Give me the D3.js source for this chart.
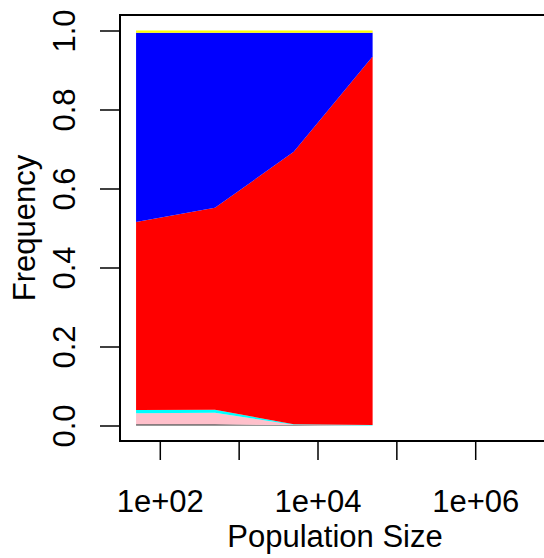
<!DOCTYPE html>
<html>
<head>
<meta charset="utf-8">
<script src="https://cdn.jsdelivr.net/npm/d3@7"></script>
<style>
  html, body { margin: 0; padding: 0; background: #fff; }
  svg { display: block; }
  text { font-family: "Liberation Sans", Arial, Helvetica, sans-serif; fill: #000; }
</style>
</head>
<body>
<svg id="chart" width="544" height="558"></svg>
<script>
// Population sizes (log scale)
const popSizes = [50, 500, 5000, 50000];

// Frequency of each type at every population size (stacked bottom to top)
const seriesNames  = ["dark", "pink", "cyan", "red", "blue", "yellow"];
const seriesColors = ["#333333", "pink", "cyan", "red", "blue", "yellow"];
const darkFreq   = [0.003, 0.003, 0.001, 0.000];
const pinkFreq   = [0.028, 0.029, 0.001, 0.000];
const cyanFreq   = [0.008, 0.008, 0.001, 0.001];
const redFreq    = [0.476, 0.511, 0.690, 0.933];
const blueFreq   = [0.479, 0.443, 0.301, 0.060];
const yellowFreq = [0.006, 0.006, 0.006, 0.006];

const xTickValues = [1e2, 1e3, 1e4, 1e5, 1e6];
const xTickLabels = ["1e+02", "", "1e+04", "", "1e+06"];
const yTickValues = [0, 0.2, 0.4, 0.6, 0.8, 1.0];
const yTickLabels = ["0.0", "0.2", "0.4", "0.6", "0.8", "1.0"];

const svg = d3.select("#chart");

// plot region
const box = { left: 120, right: 550, top: 15, bottom: 441 };

const x = d3.scaleLog().domain([1e2, 1e6]).range([159.8, 475.2]);
const y = d3.scaleLinear().domain([0, 1]).range([425.5, 30.5]);

const table = popSizes.map((n, i) => ({
  n,
  dark: darkFreq[i], pink: pinkFreq[i], cyan: cyanFreq[i],
  red: redFreq[i], blue: blueFreq[i], yellow: yellowFreq[i]
}));

const stacked = d3.stack().keys(seriesNames)(table);

const area = d3.area()
  .x(d => x(d.data.n))
  .y0(d => y(d[0]))
  .y1(d => y(d[1]));

svg.append("g")
  .selectAll("path")
  .data(stacked)
  .join("path")
  .attr("d", area)
  .attr("fill", (d, i) => seriesColors[i]);

// frame
svg.append("rect")
  .attr("x", box.left)
  .attr("y", box.top)
  .attr("width", box.right - box.left)
  .attr("height", box.bottom - box.top)
  .attr("fill", "none")
  .attr("stroke", "#000")
  .attr("stroke-width", 2);

// x axis
const xAxis = d3.axisBottom(x)
  .tickValues(xTickValues)
  .tickFormat((d, i) => xTickLabels[i])
  .tickSize(19)
  .tickPadding(10);

const gx = svg.append("g")
  .attr("transform", `translate(0,${box.bottom})`)
  .call(xAxis);
gx.select(".domain").remove();
gx.selectAll(".tick line").attr("stroke", "#000").attr("stroke-width", 1.5);
gx.selectAll(".tick text")
  .attr("font-size", 31)
  .attr("font-family", "Liberation Sans, Arial, sans-serif")
  .attr("y", null)
  .attr("dy", null)
  .attr("transform", "translate(0,70.5)");

// y axis
const yAxis = d3.axisLeft(y)
  .tickValues(yTickValues)
  .tickFormat((d, i) => yTickLabels[i])
  .tickSize(20);

const gy = svg.append("g")
  .attr("transform", `translate(${box.left},0)`)
  .call(yAxis);
gy.select(".domain").remove();
gy.selectAll(".tick line").attr("stroke", "#000").attr("stroke-width", 1.5);
gy.selectAll(".tick text")
  .attr("font-size", 31)
  .attr("font-family", "Liberation Sans, Arial, sans-serif")
  .attr("x", null)
  .attr("dy", null)
  .attr("text-anchor", "middle")
  .attr("transform", "translate(-45,0) rotate(-90)");

// axis titles
svg.append("text")
  .attr("x", (box.left + box.right) / 2)
  .attr("y", 546.5)
  .attr("text-anchor", "middle")
  .attr("font-size", 31)
  .text("Population Size");

svg.append("text")
  .attr("transform", `translate(35,${(box.top + box.bottom) / 2}) rotate(-90)`)
  .attr("text-anchor", "middle")
  .attr("font-size", 31)
  .text("Frequency");
</script>
</body>
</html>
